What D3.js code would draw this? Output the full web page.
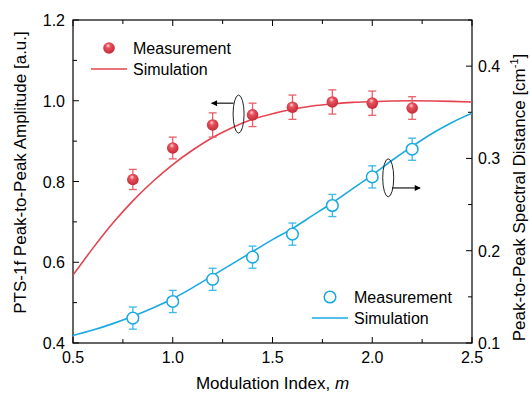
<!DOCTYPE html>
<html>
<head>
<meta charset="utf-8">
<script src="https://cdn.jsdelivr.net/npm/d3@7"></script>
<style>
  body { margin: 0; background: #fff; }
  svg { font-family: "Liberation Sans", Arial, sans-serif; }
</style>
</head>
<body>
<svg id="chart" width="530" height="396"></svg>
<script>
// measured points (left axis: amplitude, right axis: spectral distance)
const measX = [0.8, 1.0, 1.2, 1.4, 1.6, 1.8, 2.0, 2.2];
const ampMeas = [0.805, 0.883, 0.940, 0.965, 0.984, 0.997, 0.994, 0.982];
const ampErr = [0.025, 0.027, 0.03, 0.029, 0.03, 0.03, 0.03, 0.028];
const distMeas = [0.127, 0.145, 0.169, 0.193, 0.218, 0.249, 0.280, 0.310];
const distErr = [0.012, 0.012, 0.012, 0.012, 0.012, 0.012, 0.012, 0.012];

// simulation curves
const simX = [0.5, 0.6, 0.7, 0.8, 0.9, 1.0, 1.1, 1.2, 1.3, 1.4, 1.5, 1.6, 1.7, 1.8, 1.9, 2.0, 2.1, 2.2, 2.3, 2.4, 2.5];
const ampSim = [0.568, 0.635, 0.697, 0.752, 0.800, 0.842, 0.878, 0.909, 0.934, 0.954, 0.968, 0.979, 0.987, 0.992, 0.996, 0.998, 0.9995, 1.0, 0.9995, 0.9985, 0.997];
const distSim = [0.108, 0.114, 0.121, 0.129, 0.138, 0.148, 0.160, 0.173, 0.186, 0.199, 0.212, 0.224, 0.238, 0.252, 0.267, 0.282, 0.298, 0.313, 0.327, 0.339, 0.349];

const xTicks = [0.5, 1.0, 1.5, 2.0, 2.5];
const leftTicks = [0.4, 0.6, 0.8, 1.0, 1.2];
const rightTicks = [0.1, 0.2, 0.3, 0.4];

const red = "#e2434f";
const blue = "#1aa9e1";

const svg = d3.select("#chart");
const m = { left: 73, right: 472, top: 20, bottom: 343 };

const x = d3.scaleLinear().domain([0.5, 2.5]).range([m.left, m.right]);
const yL = d3.scaleLinear().domain([0.4, 1.2]).range([m.bottom, m.top]);
const yR = d3.scaleLinear().domain([0.1, 0.45]).range([m.bottom, m.top]);

// gradient for the sphere-like markers
const defs = svg.append("defs");
const grad = defs.append("radialGradient").attr("id", "ball")
  .attr("cx", "45%").attr("cy", "40%").attr("r", "60%")
  .attr("fx", "42%").attr("fy", "28%");
grad.append("stop").attr("offset", "0%").attr("stop-color", "#ffd8dc");
grad.append("stop").attr("offset", "35%").attr("stop-color", "#e8505c");
grad.append("stop").attr("offset", "100%").attr("stop-color", "#c22a38");

// frame
svg.append("rect")
  .attr("x", m.left).attr("y", m.top)
  .attr("width", m.right - m.left).attr("height", m.bottom - m.top)
  .attr("fill", "none").attr("stroke", "#000").attr("stroke-width", 1.2);

// inward ticks
const tickG = svg.append("g").attr("stroke", "#000").attr("stroke-width", 1);
d3.range(0.5, 2.51, 0.25).forEach(v => {
  const major = Math.abs(v * 2 - Math.round(v * 2)) < 1e-6;
  const len = major ? 6 : 4;
  tickG.append("line").attr("x1", x(v)).attr("x2", x(v)).attr("y1", m.bottom).attr("y2", m.bottom - len);
  tickG.append("line").attr("x1", x(v)).attr("x2", x(v)).attr("y1", m.top).attr("y2", m.top + len);
});
d3.range(0.4, 1.201, 0.1).forEach(v => {
  const major = Math.abs(v * 5 - Math.round(v * 5)) < 1e-6;
  const len = major ? 6 : 4;
  tickG.append("line").attr("x1", m.left).attr("x2", m.left + len).attr("y1", yL(v)).attr("y2", yL(v));
});
d3.range(0.1, 0.451, 0.05).forEach(v => {
  const major = Math.abs(v * 10 - Math.round(v * 10)) < 1e-6;
  const len = major ? 6 : 4;
  tickG.append("line").attr("x1", m.right).attr("x2", m.right - len).attr("y1", yR(v)).attr("y2", yR(v));
});

// tick labels
const fs = 16;
const titleFs = 17;
svg.append("g").selectAll("text").data(xTicks).join("text")
  .attr("x", d => x(d)).attr("y", 363)
  .attr("text-anchor", "middle").attr("font-size", fs)
  .text(d => d.toFixed(1));
svg.append("g").selectAll("text").data(leftTicks).join("text")
  .attr("x", 65).attr("y", d => yL(d) + 6)
  .attr("text-anchor", "end").attr("font-size", fs)
  .text(d => d.toFixed(1));
svg.append("g").selectAll("text").data(rightTicks).join("text")
  .attr("x", 478).attr("y", d => yR(d) + 6)
  .attr("text-anchor", "start").attr("font-size", fs)
  .text(d => d.toFixed(1));

// axis titles
const xt = svg.append("text").attr("x", (m.left + m.right) / 2).attr("y", 389)
  .attr("text-anchor", "middle").attr("font-size", titleFs);
xt.append("tspan").text("Modulation Index, ");
xt.append("tspan").attr("font-style", "italic").text("m");

svg.append("text")
  .attr("transform", `translate(26,${(m.top + m.bottom) / 2 - 9}) rotate(-90)`)
  .attr("text-anchor", "middle").attr("font-size", titleFs)
  .text("PTS-1f Peak-to-Peak Amplitude [a.u.]");

const rt = svg.append("text")
  .attr("transform", `translate(525,${(m.top + m.bottom) / 2 + 16}) rotate(-90)`)
  .attr("text-anchor", "middle").attr("font-size", titleFs);
rt.append("tspan").text("Peak-to-Peak Spectral Distance [cm");
rt.append("tspan").attr("font-size", 11).attr("dy", -7).text("-1");
rt.append("tspan").attr("dy", 7).text("]");

// simulation lines
defs.append("clipPath").attr("id", "plotclip").append("rect")
  .attr("x", m.left).attr("y", m.top).attr("width", m.right - m.left).attr("height", m.bottom - m.top);

svg.append("path")
  .datum(simX.map((v, i) => [v, ampSim[i]]))
  .attr("clip-path", "url(#plotclip)")
  .attr("fill", "none").attr("stroke", red).attr("stroke-width", 1.6)
  .attr("d", d3.line().x(d => x(d[0])).y(d => yL(d[1])).curve(d3.curveMonotoneX));

svg.append("path")
  .datum(simX.map((v, i) => [v, distSim[i]]))
  .attr("clip-path", "url(#plotclip)")
  .attr("fill", "none").attr("stroke", blue).attr("stroke-width", 1.6)
  .attr("d", d3.line().x(d => x(d[0])).y(d => yR(d[1])).curve(d3.curveMonotoneX));

// error bars
function errorBars(vals, errs, y, color) {
  const g = svg.append("g").attr("stroke", color).attr("stroke-width", 1.3).attr("fill", "none");
  measX.forEach((xv, i) => {
    const cx = x(xv), top = y(vals[i] + errs[i]), bot = y(vals[i] - errs[i]);
    g.append("line").attr("x1", cx).attr("x2", cx).attr("y1", top).attr("y2", bot);
    g.append("line").attr("x1", cx - 4).attr("x2", cx + 4).attr("y1", top).attr("y2", top);
    g.append("line").attr("x1", cx - 4).attr("x2", cx + 4).attr("y1", bot).attr("y2", bot);
  });
}
errorBars(ampMeas, ampErr, yL, "#e8606a");
errorBars(distMeas, distErr, yR, "#3ab8e8");

// markers
svg.append("g").selectAll("circle").data(measX).join("circle")
  .attr("cx", d => x(d)).attr("cy", (d, i) => yL(ampMeas[i])).attr("r", 5.8)
  .attr("fill", "url(#ball)");
svg.append("g").selectAll("circle").data(measX).join("circle")
  .attr("cx", d => x(d)).attr("cy", (d, i) => yR(distMeas[i])).attr("r", 5.8)
  .attr("fill", "#fff").attr("stroke", blue).attr("stroke-width", 1.5);

// legends
function legend(lx, ly, filled, color) {
  const g = svg.append("g").attr("font-size", fs);
  const c = g.append("circle").attr("cx", lx + 18).attr("cy", ly).attr("r", 5.8);
  if (filled) c.attr("fill", "url(#ball)");
  else c.attr("fill", "#fff").attr("stroke", color).attr("stroke-width", 1.5);
  g.append("text").attr("x", lx + 42).attr("y", ly + 6).text("Measurement");
  g.append("line").attr("x1", lx).attr("x2", lx + 36).attr("y1", ly + 21).attr("y2", ly + 21)
    .attr("stroke", color).attr("stroke-width", 1.6);
  g.append("text").attr("x", lx + 42).attr("y", ly + 27).text("Simulation");
}
legend(91, 48, true, red);
legend(312, 297, false, blue);

// ellipse + arrow annotations pointing to each axis
defs.append("marker").attr("id", "arrow").attr("viewBox", "0 0 10 10")
  .attr("refX", 9).attr("refY", 5).attr("markerWidth", 8).attr("markerHeight", 6)
  .attr("markerUnits", "userSpaceOnUse").attr("orient", "auto")
  .append("path").attr("d", "M0,0L10,5L0,10Z").attr("fill", "#000");

function annot(ex, ey, ax, ay, yScale) {
  svg.append("ellipse").attr("cx", x(ex)).attr("cy", yScale(ey)).attr("rx", 5.5).attr("ry", 19)
    .attr("fill", "none").attr("stroke", "#222").attr("stroke-width", 1);
  const sx = ax < ex ? x(ex) - 5 : x(ex) + 4;
  svg.append("line").attr("x1", sx).attr("y1", yScale(ay)).attr("x2", x(ax)).attr("y2", yScale(ay))
    .attr("stroke", "#000").attr("stroke-width", 1.1).attr("marker-end", "url(#arrow)");
}
annot(1.33, 0.967, 1.195, 0.994, yL);
annot(2.08, 0.279, 2.24, 0.268, yR);
</script>
</body>
</html>
